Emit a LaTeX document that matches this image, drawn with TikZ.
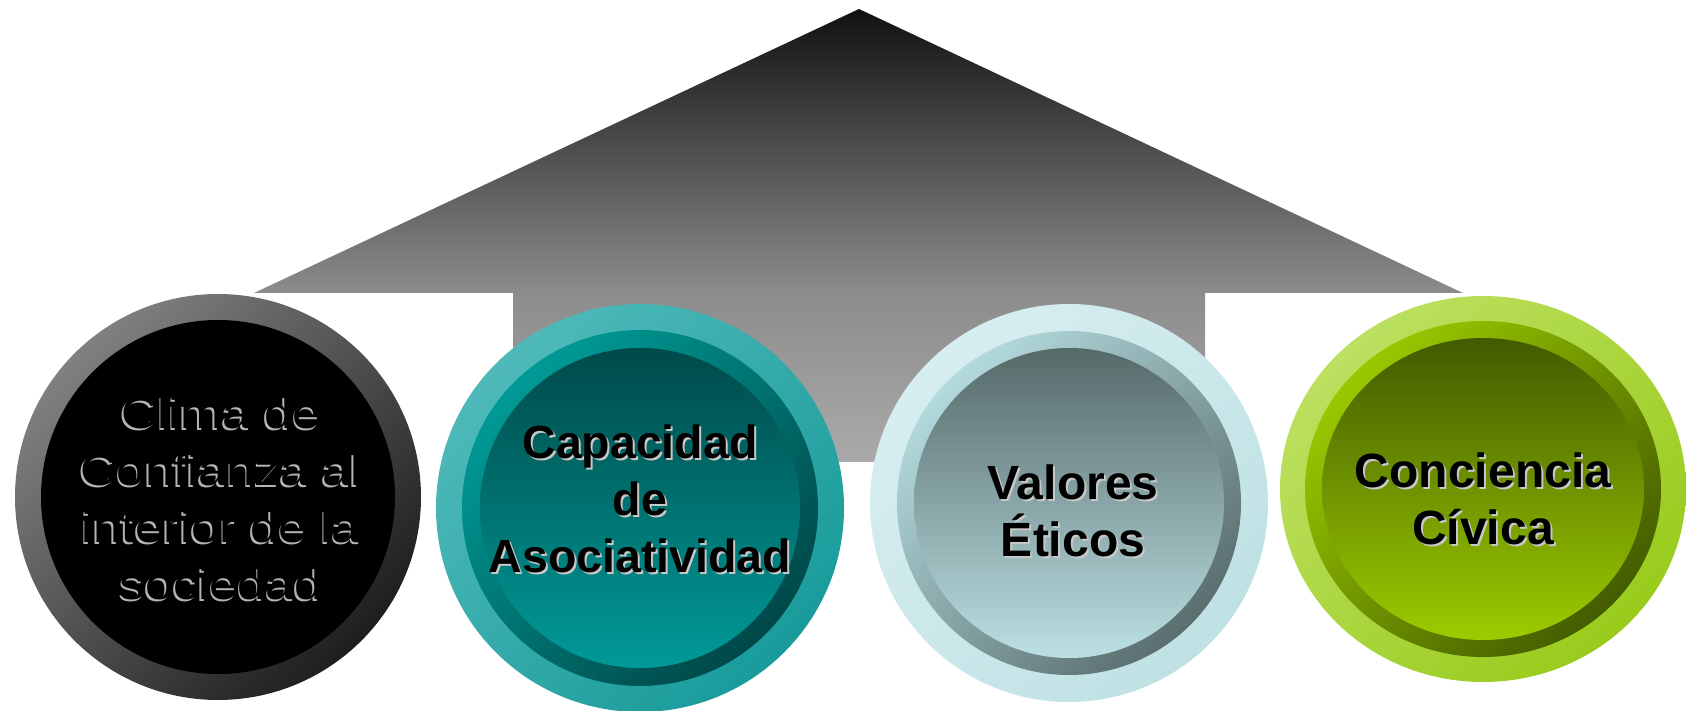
\documentclass[tikz,border=0pt]{standalone}
\usepackage{fontspec}
\setmainfont{Liberation Sans}
\newfontfamily\wideface[FakeStretch=1.15]{Liberation Sans}
\usetikzlibrary{positioning,shapes.geometric}

\definecolor{arrowtop}{HTML}{111111}
\definecolor{arrowmid}{HTML}{8C8C8C}
\definecolor{arrowbot}{HTML}{AAAAAA}
\definecolor{shadowgrey}{HTML}{C8C8C8}
\definecolor{embossgrey}{HTML}{B4B4B4}
\definecolor{climaA}{HTML}{808080}
\definecolor{climaB}{HTML}{1E1E1E}
\definecolor{capA}{HTML}{4FB9B9}
\definecolor{capB}{HTML}{199B9B}
\definecolor{capMidA}{HTML}{009A96}
\definecolor{capMidB}{HTML}{004848}
\definecolor{capInA}{HTML}{004A4A}
\definecolor{capInB}{HTML}{009A98}
\definecolor{valA}{HTML}{D7EEF0}
\definecolor{valB}{HTML}{BFE1E4}
\definecolor{valMidA}{HTML}{B3DADD}
\definecolor{valMidB}{HTML}{5A6E6E}
\definecolor{valInA}{HTML}{566969}
\definecolor{valInB}{HTML}{BBE0E3}
\definecolor{concA}{HTML}{BCE060}
\definecolor{concB}{HTML}{99CB1C}
\definecolor{concMidA}{HTML}{99C800}
\definecolor{concMidB}{HTML}{445C00}
\definecolor{concInA}{HTML}{435A00}
\definecolor{concInB}{HTML}{9CCC00}

\pgfdeclareverticalshading{arrowshade}{100bp}{color(0bp)=(arrowbot); color(25bp)=(arrowbot);
  color(43.7bp)=(arrowmid); color(75bp)=(arrowtop); color(100bp)=(arrowtop)}

\begin{document}
\begin{tikzpicture}[x=1pt,y=1pt,on grid,
  disc/.style={ellipse,inner sep=0pt,minimum width=#1,minimum height=#1},
  ringtext/.style={align=center,font=\bfseries\fontsize{#1}{57}\selectfont},
  ringtext/.default=48,
  ringshadow/.style={ringtext=#1,text=shadowgrey,xshift=2pt,yshift=-2pt},
  ringshadow/.default=48]
  \useasboundingbox (0,0) rectangle (1686,710);
  % big arrow
  \shade[shading=arrowshade] (859,701) -- (1463,417) -- (1205,417) -- (1205,248)
    -- (513,248) -- (513,417) -- (254,417) -- cycle;
  % circles
  \node[disc=406pt,top color=climaA,bottom color=climaB,shading angle=45] (clima) at (218,213) {};
  \node[disc=354pt,fill=black] (climaIn) at (clima) {};
  \node[disc=408pt,top color=capA,bottom color=capB,shading angle=45] (cap) [right=422pt of clima,yshift=-11pt] {};
  \node[disc=356pt,top color=capMidA,bottom color=capMidB,shading angle=45] (capMid) at (cap) {};
  \node[disc=320pt,top color=capInA,bottom color=capInB] (capIn) at (cap) {};
  \node[disc=398pt,top color=valA,bottom color=valB,shading angle=45] (val) [right=429pt of cap,yshift=5pt] {};
  \node[disc=344pt,top color=valMidA,bottom color=valMidB,shading angle=45] (valMid) at (val) {};
  \node[disc=310pt,top color=valInA,bottom color=valInB] (valIn) at (val) {};
  \node[disc=406pt,minimum height=386pt,top color=concA,bottom color=concB,shading angle=45] (conc) [right=414pt of val,yshift=14pt] {};
  \node[disc=356pt,minimum height=336pt,top color=concMidA,bottom color=concMidB,shading angle=45] (concMid) at (conc) {};
  \node[disc=322pt,minimum height=302pt,top color=concInA,bottom color=concInB] (concIn) at (conc) {};
  % texts
  \node[align=center,font=\wideface\fontsize{44}{57}\selectfont,text=embossgrey] (climaS) [below=3pt of clima,xshift=1.5pt] {Clima de\\Confianza al\\interior de la\\sociedad};
  \node[align=center,font=\wideface\fontsize{44}{57}\selectfont,text=black] (climaT) [below=1.5pt of clima,xshift=3pt] {Clima de\\Confianza al\\interior de la\\sociedad};
  \node[ringshadow=46.5] (capS) [above=9pt of cap] {Capacidad\\de\\Asociatividad};
  \node[ringtext=46.5] (capT) [above=9pt of cap] {Capacidad\\de\\Asociatividad};
  \node[ringshadow] (valS) [below=8pt of val,xshift=4pt] {Valores\\Éticos};
  \node[ringtext] (valT) [below=8pt of val,xshift=4pt] {Valores\\Éticos};
  \node[ringshadow] (concS) [below=10pt of conc] {Conciencia\\Cívica};
  \node[ringtext] (concT) [below=10pt of conc] {Conciencia\\Cívica};
\end{tikzpicture}
\end{document}
